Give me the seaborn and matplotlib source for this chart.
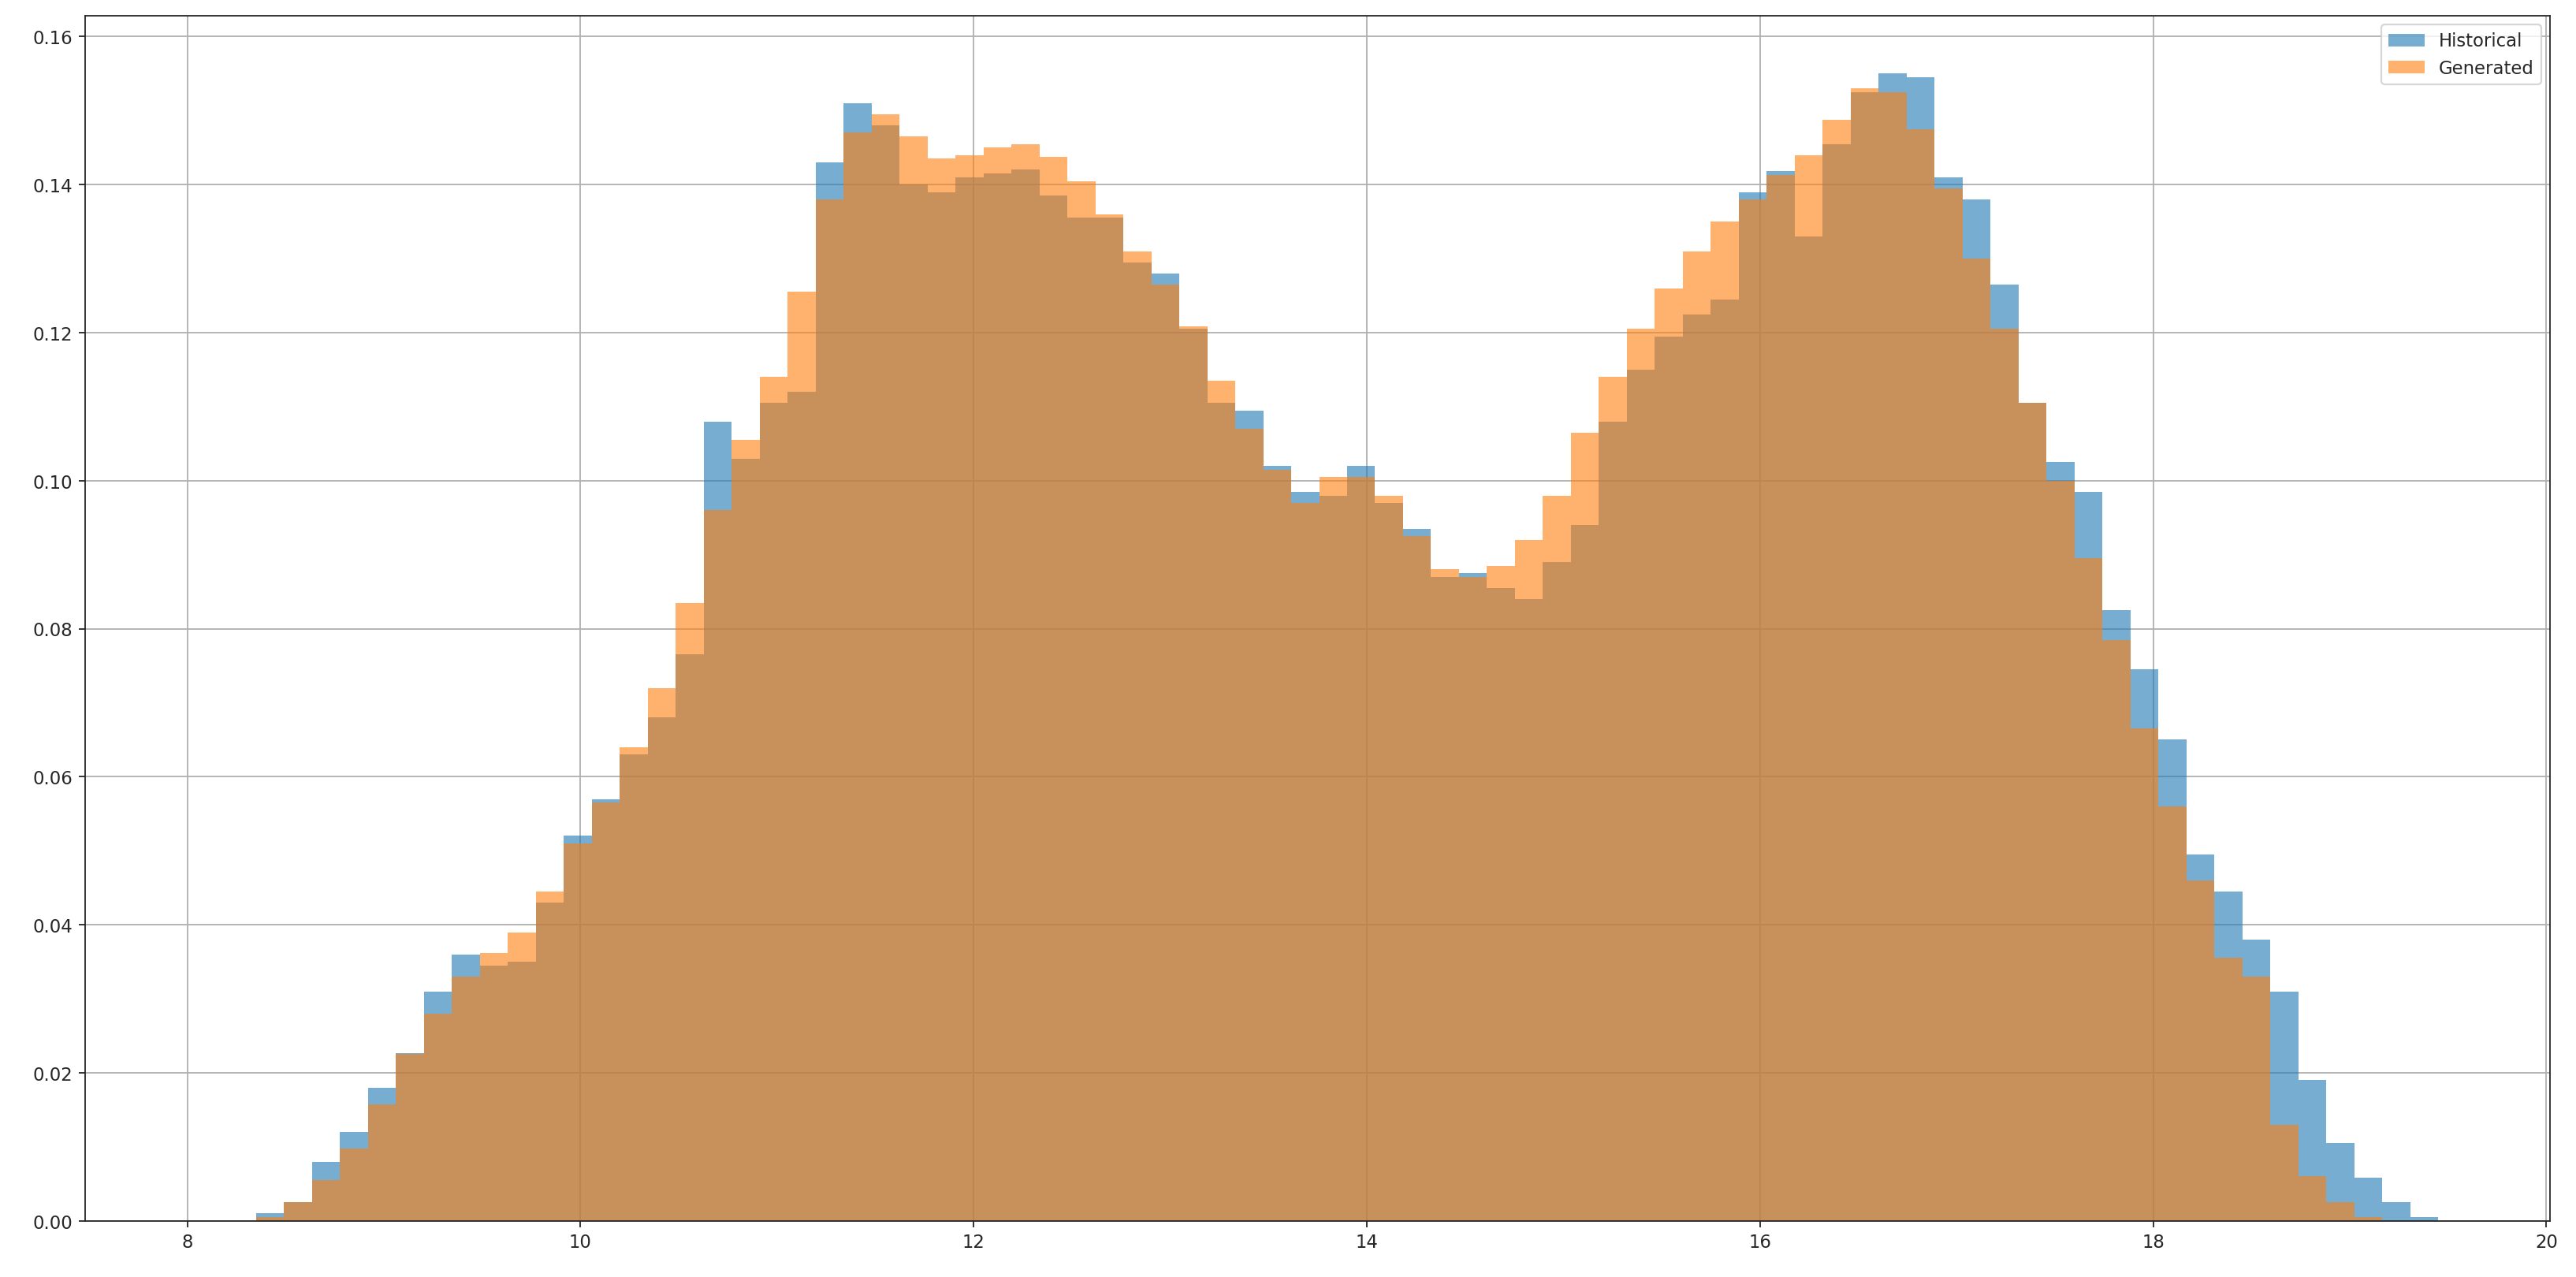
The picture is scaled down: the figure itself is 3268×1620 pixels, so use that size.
import numpy as np
import pandas as pd
import matplotlib
matplotlib.use("Agg")
import matplotlib.pyplot as plt
import seaborn as sns

historical = [.001,.0025,.008,.012,.018,.0227,.031,.036,.0345,.035,.043,.052,.057,.063,.068,.0765,
 .108,.103,.1105,.112,.143,.151,.148,.140,.139,.141,.1415,.142,.1385,.1355,.1355,.1295,.128,.1205,
 .1105,.1095,.102,.0985,.098,.102,.097,.0935,.087,.0875,.0855,.084,.089,.094,.108,.115,.1195,.1225,
 .1245,.139,.1418,.133,.1455,.1525,.155,.1545,.141,.138,.1265,.1105,.1025,.0985,.0825,.0745,.065,
 .0495,.0445,.038,.031,.019,.0105,.0058,.0025,.0005]
generated = [.0005,.0025,.0055,.0098,.0157,.0225,.028,.033,.0362,.039,.0445,.051,.0565,.064,.072,.0835,
 .096,.1055,.114,.1255,.138,.147,.1495,.1465,.1435,.144,.145,.1455,.1438,.1405,.136,.131,.1265,.1208,
 .1135,.107,.1015,.097,.1005,.1005,.098,.0925,.088,.087,.0885,.092,.098,.1065,.114,.1205,.126,.131,
 .135,.138,.1413,.144,.1488,.153,.1525,.1475,.1395,.130,.1205,.1105,.100,.0895,.0785,.0665,.056,
 .046,.0355,.033,.013,.006,.0025,.0005,0,0]

lo, hi = 8.35, 19.45
n = len(historical)
bw = (hi - lo) / n
centers = lo + bw * (np.arange(n) + 0.5)
df_h = pd.DataFrame({"x": centers, "w": historical})
df_g = pd.DataFrame({"x": centers, "w": generated})

sns.set_style("ticks")
fig, ax = plt.subplots(figsize=(20, 9.92), dpi=163.4)
sns.histplot(data=df_h, x="x", weights="w", binwidth=bw, binrange=(lo, hi), color="tab:blue",
             alpha=0.6, edgecolor="none", linewidth=0, label="Historical", ax=ax)
sns.histplot(data=df_g, x="x", weights="w", binwidth=bw, binrange=(lo, hi), color="tab:orange",
             alpha=0.6, edgecolor="none", linewidth=0, label="Generated", ax=ax)
ax.set_xlim(7.48, 20.02)
ax.set_ylim(0, 0.1628)
ax.set_xlabel("")
ax.set_ylabel("")
ax.grid(True, color="#b0b0b0", linewidth=0.8)
ax.set_axisbelow(True)
ax.legend(loc="upper right")
fig.subplots_adjust(left=0.033, right=0.99, bottom=0.044, top=0.987)
fig.savefig("out.png")
